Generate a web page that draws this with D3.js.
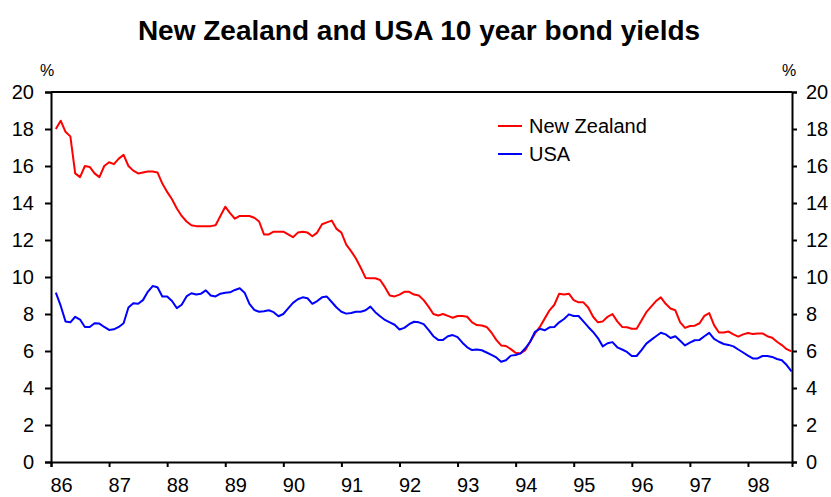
<!DOCTYPE html>
<meta charset="utf-8">
<script src="https://d3js.org/d3.v7.min.js"></script>
<style>
  body { margin: 0; background: #fff; }
  text { font-family: "Liberation Sans", Arial, sans-serif; }
</style>
<div id="chart"></div>
<script>

// monthly observations, first one is Feb 1986 (month index 1 from Jan 1986)
var firstMonth = 1;
var nzYields = [
  18.0, 18.45, 17.85, 17.6, 15.6, 15.4, 16.0, 15.95, 15.6, 15.4, 16.0, 16.2,
  16.1, 16.4, 16.6, 16.0, 15.75, 15.6, 15.65, 15.7, 15.7, 15.65, 15.05, 14.6,
  14.2, 13.7, 13.3, 13.0, 12.8, 12.75, 12.75, 12.75, 12.75, 12.8, 13.3, 13.8,
  13.45, 13.15, 13.3, 13.3, 13.3, 13.2, 13.0, 12.3, 12.3, 12.45, 12.45, 12.45,
  12.3, 12.15, 12.4, 12.45, 12.4, 12.2, 12.4, 12.85, 12.95, 13.05, 12.6, 12.4,
  11.75, 11.4, 11.0, 10.5, 9.95, 9.93, 9.93, 9.84, 9.45, 9.0, 8.95, 9.05,
  9.2, 9.2, 9.05, 9.0, 8.75, 8.4, 8.0, 7.92, 8.0, 7.9, 7.8, 7.89,
  7.89, 7.85, 7.55, 7.4, 7.38, 7.3, 7.0, 6.6, 6.3, 6.27, 6.1, 5.9,
  5.87, 6.05, 6.5, 6.95, 7.3, 7.75, 8.2, 8.5, 9.1, 9.05, 9.1, 8.75,
  8.63, 8.63, 8.35, 7.85, 7.55, 7.6, 7.85, 8.0, 7.6, 7.3, 7.28, 7.2,
  7.2, 7.65, 8.1, 8.4, 8.7, 8.9, 8.55, 8.3, 8.2, 7.55, 7.25, 7.35,
  7.37, 7.5, 7.9, 8.05, 7.4, 7.0, 7.0, 7.05, 6.9, 6.78, 6.9, 6.97,
  6.92, 6.95, 6.95, 6.8, 6.72, 6.5, 6.32, 6.1, 5.98
];
var usYields = [
  9.15, 8.45, 7.6, 7.55, 7.85, 7.7, 7.3, 7.3, 7.5, 7.48, 7.3, 7.14,
  7.17, 7.3, 7.5, 8.35, 8.58, 8.55, 8.75, 9.2, 9.51, 9.45, 8.95, 8.95,
  8.7, 8.32, 8.5, 8.95, 9.12, 9.05, 9.1, 9.28, 9.0, 8.95, 9.1, 9.15,
  9.17, 9.3, 9.39, 9.15, 8.55, 8.22, 8.12, 8.15, 8.2, 8.1, 7.88, 8.0,
  8.3, 8.6, 8.8, 8.9, 8.85, 8.55, 8.7, 8.9, 8.94, 8.65, 8.35, 8.12,
  8.02, 8.05, 8.12, 8.12, 8.2, 8.4, 8.1, 7.88, 7.68, 7.55, 7.42, 7.16,
  7.25, 7.45, 7.58, 7.55, 7.45, 7.14, 6.8, 6.6, 6.6, 6.8, 6.86, 6.75,
  6.45, 6.2, 6.05, 6.08, 6.04, 5.92, 5.79, 5.65, 5.42, 5.5, 5.75, 5.78,
  5.87, 6.15, 6.5, 7.04, 7.2, 7.12, 7.28, 7.3, 7.55, 7.73, 7.98, 7.89,
  7.89, 7.6, 7.3, 7.03, 6.7, 6.25, 6.42, 6.48, 6.2, 6.08, 5.95, 5.73,
  5.73, 6.05, 6.4, 6.6, 6.8, 6.99, 6.9, 6.7, 6.8, 6.55, 6.3, 6.45,
  6.58, 6.6, 6.8, 6.98, 6.65, 6.5, 6.38, 6.33, 6.25, 6.08, 5.92, 5.75,
  5.6, 5.6, 5.73, 5.73, 5.68, 5.57, 5.5, 5.24, 4.9
];
var seriesNames = ["New Zealand", "USA"];
var seriesColors = ["#ff0000", "#0000ff"];
var yearTicks = [86, 87, 88, 89, 90, 91, 92, 93, 94, 95, 96, 97, 98];
var yTicks = [0, 2, 4, 6, 8, 10, 12, 14, 16, 18, 20];

var W = 831, H = 497;
var margin = {top: 92, right: 39, bottom: 35, left: 51},
    width = W - margin.left - margin.right,
    height = H - margin.top - margin.bottom;

var root = d3.select("#chart")
  .append("svg")
    .attr("width", W)
    .attr("height", H);

// title
root.append("text")
  .attr("x", 419)
  .attr("y", 40)
  .attr("text-anchor", "middle")
  .style("font-size", "28px")
  .style("font-weight", "bold")
  .text("New Zealand and USA 10 year bond yields");

var svg = root.append("g")
  .attr("transform", "translate(" + margin.left + "," + margin.top + ")");

var x = d3.scaleLinear()
  .domain([86, 98 + 9.1 / 12])
  .range([0, width]);

var y = d3.scaleLinear()
  .domain([0, 20])
  .range([height, 0]);

// frame top line
svg.append("line")
  .attr("x1", 0).attr("x2", width)
  .attr("y1", 0).attr("y2", 0)
  .attr("stroke", "#000")
  .attr("stroke-width", 2);

var xAxis = svg.append("g")
  .attr("transform", "translate(0," + height + ")")
  .call(d3.axisBottom(x).tickValues(yearTicks).tickSize(5).tickPadding(11)
    .tickFormat(function(d) { return d; }));
xAxis.selectAll("text")
  .attr("text-anchor", "start")
  .attr("dx", -1);

var yLeft = svg.append("g")
  .call(d3.axisLeft(y).tickValues(yTicks).tickSize(6).tickPadding(11));

var yRight = svg.append("g")
  .attr("transform", "translate(" + width + ",0)")
  .call(d3.axisRight(y).tickValues(yTicks).tickSize(5).tickPadding(9));

svg.selectAll(".domain")
  .attr("stroke-width", 2);
svg.selectAll(".tick line")
  .attr("stroke-width", 2);
svg.selectAll(".tick text")
  .style("font-size", "20px")
  .attr("fill", "#000");

// percent signs over both axes
svg.append("text")
  .attr("x", -4).attr("y", -16)
  .attr("text-anchor", "middle")
  .style("font-size", "16px")
  .text("%");
svg.append("text")
  .attr("x", width - 3).attr("y", -16)
  .attr("text-anchor", "middle")
  .style("font-size", "16px")
  .text("%");

var line = d3.line()
  .x(function(d, i) { return x(86 + (firstMonth + i) / 12); })
  .y(function(d) { return y(d); });

[nzYields, usYields].forEach(function(s, k) {
  svg.append("path")
    .datum(s)
    .attr("fill", "none")
    .attr("stroke", seriesColors[k])
    .attr("stroke-width", 2)
    .attr("stroke-linejoin", "round")
    .attr("d", line);
});

// legend
var legend = root.append("g")
  .attr("transform", "translate(498,126)");
seriesNames.forEach(function(name, i) {
  legend.append("line")
    .attr("x1", 0).attr("x2", 24)
    .attr("y1", i * 28).attr("y2", i * 28)
    .attr("stroke", seriesColors[i])
    .attr("stroke-width", 2);
  legend.append("text")
    .attr("x", 31)
    .attr("y", i * 28 + 7)
    .style("font-size", "20px")
    .text(name);
});

</script>
